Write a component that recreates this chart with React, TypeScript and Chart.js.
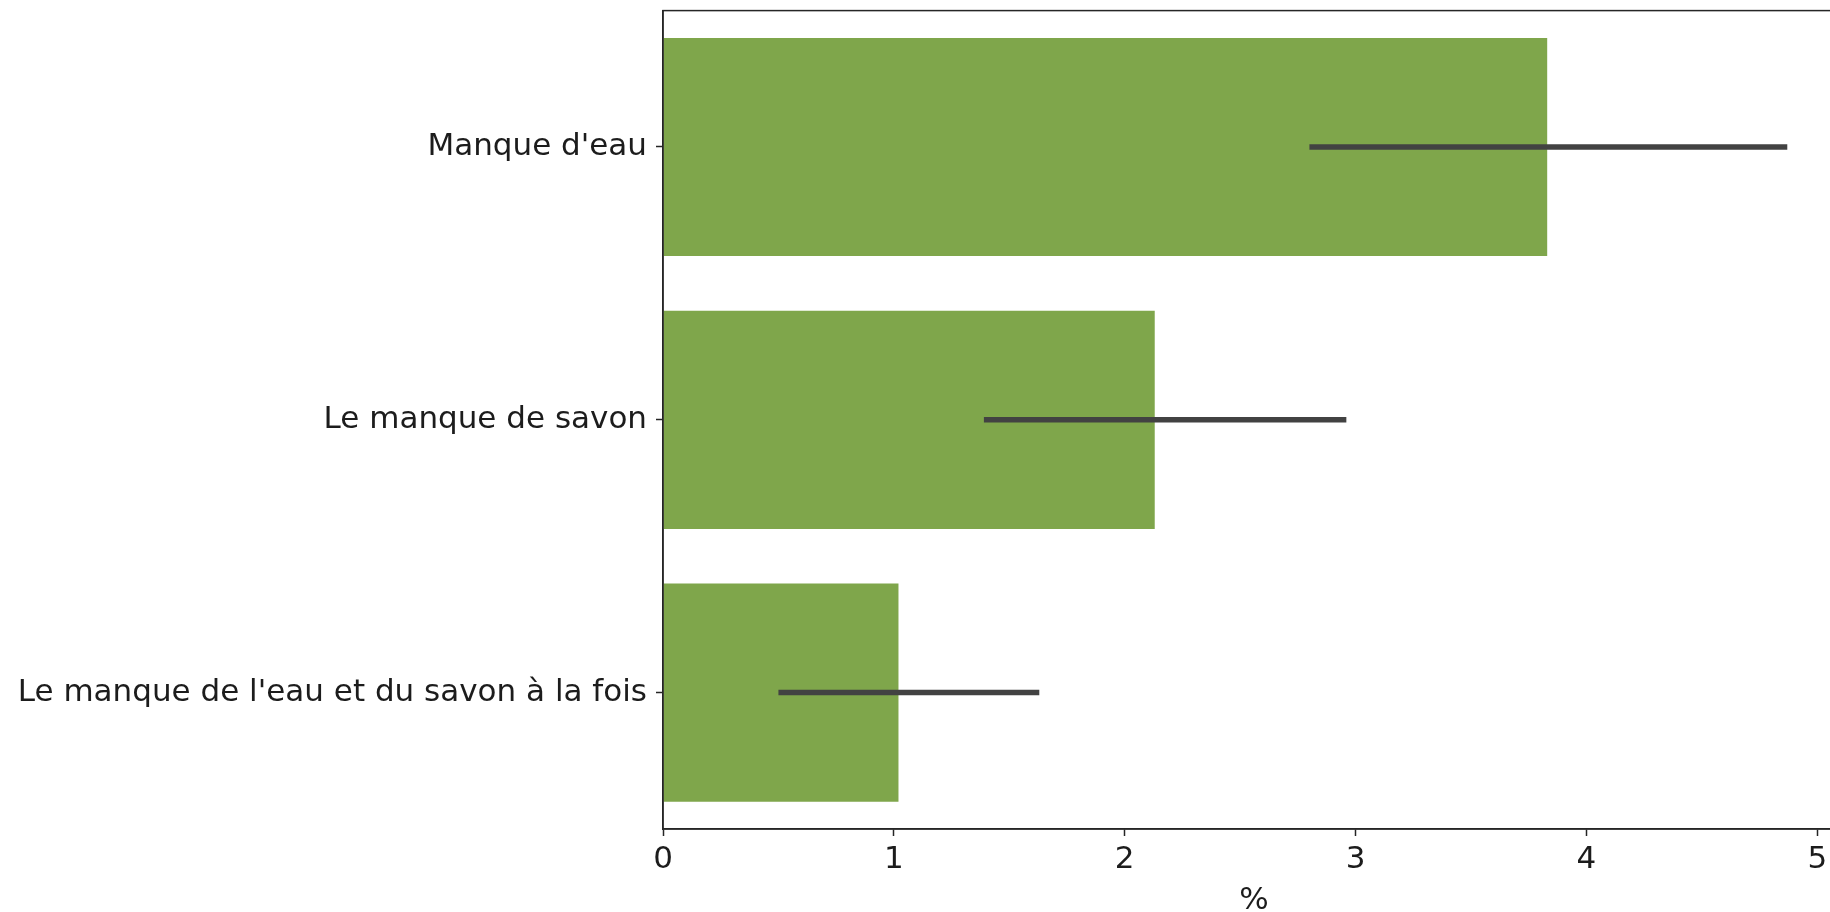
import React, { useEffect, useRef } from "react";
import { Chart, registerables } from "chart.js";

Chart.register(...registerables);

const categories = [
  "Manque d'eau",
  "Le manque de savon",
  "Le manque de l'eau et du savon à la fois",
];
const values = [3.83, 2.13, 1.02];
const errLow = [2.8, 1.39, 0.5];
const errHigh = [4.87, 2.96, 1.63];
const xTicks = [0, 1, 2, 3, 4, 5];
const xTitle = "%";

const FONT = "'DejaVu Sans', sans-serif";
const TEXT = "#1c1c1c";
const AXIS = "#262626";

const errorBarPlugin = {
  id: "errorBars",
  afterDatasetsDraw(chart: any) {
    const { ctx, scales } = chart;
    const xs = scales.x;
    const ys = scales.y;
    ctx.save();
    ctx.strokeStyle = "#424242";
    ctx.lineWidth = 5.5;
    ctx.lineCap = "butt";
    errLow.forEach((lo, i) => {
      const y = ys.getPixelForValue(i);
      ctx.beginPath();
      ctx.moveTo(xs.getPixelForValue(lo), y);
      ctx.lineTo(xs.getPixelForValue(errHigh[i]), y);
      ctx.stroke();
    });
    ctx.restore();
  },
};

const framePlugin = {
  id: "frame",
  afterDraw(chart: any) {
    const { ctx, chartArea } = chart;
    ctx.save();
    ctx.strokeStyle = AXIS;
    ctx.lineWidth = 1.5;
    ctx.strokeRect(
      chartArea.left,
      chartArea.top,
      chartArea.right - chartArea.left,
      chartArea.bottom - chartArea.top
    );
    ctx.restore();
  },
};

export default function App() {
  const ref = useRef<HTMLCanvasElement | null>(null);

  useEffect(() => {
    if (!ref.current) return;
    const chart = new Chart(ref.current, {
      type: "bar",
      data: {
        labels: categories,
        datasets: [
          {
            data: values,
            backgroundColor: "#7fa64b",
            borderWidth: 0,
            barPercentage: 0.8,
            categoryPercentage: 1,
          },
        ],
      },
      options: {
        indexAxis: "y",
        animation: false,
        responsive: false,
        devicePixelRatio: 1,
        layout: { padding: { top: 10, right: 0, left: 0, bottom: 0 } },
        plugins: {
          legend: { display: false },
          tooltip: { enabled: false },
        },
        scales: {
          x: {
            type: "linear",
            min: 0,
            max: 5.12,
            afterBuildTicks(scale: any) {
              scale.ticks = xTicks.map((v) => ({ value: v }));
            },
            afterFit(scale: any) {
              scale.height = 83;
            },
            ticks: {
              color: TEXT,
              font: { family: FONT, size: 31 },
              padding: 5,
              maxRotation: 0,
            },
            grid: {
              display: true,
              drawOnChartArea: false,
              tickLength: 7,
              tickColor: AXIS,
              tickWidth: 1.5,
            },
            border: { display: true, color: AXIS, width: 1.5 },
            title: {
              display: true,
              text: xTitle,
              color: TEXT,
              font: { family: FONT, size: 31 },
              padding: { top: 0, bottom: -8 },
            },
          },
          y: {
            type: "category",
            offset: true,
            afterFit(scale: any) {
              scale.width = 663;
            },
            ticks: {
              color: TEXT,
              font: { family: FONT, size: 31 },
              padding: 9,
            },
            grid: {
              display: true,
              offset: false,
              drawOnChartArea: false,
              tickLength: 7,
              tickColor: AXIS,
              tickWidth: 1.5,
            },
            border: { display: true, color: AXIS, width: 1.5 },
          },
        },
      },
      plugins: [errorBarPlugin, framePlugin],
    });
    return () => chart.destroy();
  }, []);

  return (
    <div
      style={{
        position: "fixed",
        left: 0,
        top: 0,
        width: 1830,
        height: 912,
        overflow: "hidden",
        background: "#fff",
      }}
    >
      <canvas
        ref={ref}
        width={1845}
        height={929}
        style={{ display: "block", position: "absolute", left: 0, top: -17 }}
      />
    </div>
  );
}
